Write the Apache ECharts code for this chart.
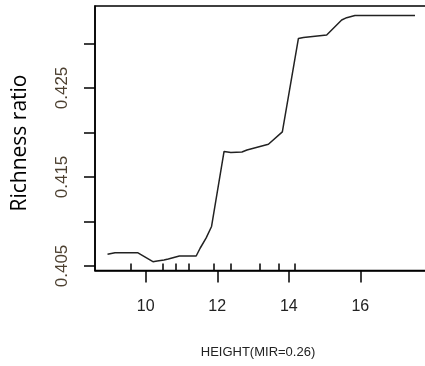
<!DOCTYPE html>
<html>
<head>
<meta charset="utf-8">
<script src="https://cdn.jsdelivr.net/npm/echarts@6/dist/echarts.min.js"></script>
<style>
  html, body { margin: 0; padding: 0; background: #fff; }
  #chart { width: 425px; height: 366px; }
</style>
</head>
<body>
<div id="chart"></div>
<script>
// Partial dependence of richness ratio on HEIGHT
const heightX = [8.93, 9.14, 9.77, 10.20, 10.32, 10.51, 10.63, 10.94, 11.41, 11.52, 11.69, 11.84,
                 12.19, 12.38, 12.69, 12.83, 13.43, 13.82, 14.27, 14.41, 15.06, 15.48, 15.62, 15.85, 17.53];
const richness = [0.40631, 0.40649, 0.40649, 0.40548, 0.40556, 0.40567, 0.40579, 0.40612, 0.40612, 0.40699, 0.40815, 0.40944,
                  0.41787, 0.41775, 0.41781, 0.41803, 0.41867, 0.42006, 0.43056, 0.43067, 0.43096, 0.43264, 0.43290, 0.43315, 0.43315];
// observed HEIGHT values (rug)
const rugX = [9.57, 10.48, 10.84, 11.19, 11.91, 12.37, 13.19, 13.73, 14.18];
const xTickValues = [10, 12, 14, 16];
const yTickValues = [0.405, 0.410, 0.415, 0.420, 0.425, 0.430];
const yLabelValues = [0.405, 0.415, 0.425];
const xTitle = 'HEIGHT(MIR=0.26)';
const yTitle = 'Richness ratio';

const chart = echarts.init(document.getElementById('chart'), null, { renderer: 'canvas' });

const xMin = 8.58, xMax = 18.09;

chart.setOption({
  animation: false,
  backgroundColor: '#fff',
  grid: {
    left: 95, top: 6, width: 340, height: 264.5,
    outerBoundsMode: 'none', containLabel: false,
    show: true, borderColor: '#000', borderWidth: 1.5, backgroundColor: 'transparent'
  },
  xAxis: [
    {
      type: 'value', min: xMin, max: xMax, position: 'bottom',
      splitLine: { show: false },
      axisLine: { show: true, lineStyle: { color: '#000', width: 1.5 } },
      axisTick: { show: true, length: 12, customValues: xTickValues, lineStyle: { color: '#000', width: 1.5 } },
      axisLabel: {
        customValues: xTickValues, margin: 28, fontSize: 16,
        fontFamily: 'Liberation Sans', color: '#222'
      }
    },
    {
      // rug ticks pointing into the plot
      type: 'value', min: xMin, max: xMax, position: 'bottom',
      splitLine: { show: false },
      axisLine: { show: false },
      axisTick: { show: true, inside: true, length: 7, customValues: rugX, lineStyle: { color: '#000', width: 1.5 } },
      axisLabel: { show: false }
    }
  ],
  yAxis: {
    type: 'value', min: 0.40449, max: 0.43421,
    splitLine: { show: false },
    axisLine: { show: true, lineStyle: { color: '#000', width: 1.5 } },
    axisTick: { show: true, length: 11, customValues: yTickValues, lineStyle: { color: '#000', width: 1.5 } },
    axisLabel: {
      customValues: yLabelValues, rotate: 90, margin: 24, fontSize: 17,
      fontFamily: 'Liberation Sans', color: '#4d4030',
      formatter: v => v.toFixed(3)
    }
  },
  graphic: [
    {
      type: 'text', x: 20, y: 143, rotation: Math.PI / 2,
      style: {
        text: yTitle, fontFamily: 'Open Sans', fontSize: 21, fill: '#000',
        textAlign: 'center', textVerticalAlign: 'middle'
      }
    },
    {
      type: 'text', x: 258, y: 352.5,
      style: {
        text: xTitle, fontFamily: 'Liberation Sans', fontSize: 13, fill: '#222',
        textAlign: 'center', textVerticalAlign: 'middle'
      }
    }
  ],
  series: [{
    type: 'line',
    xAxisIndex: 0,
    data: heightX.map((x, i) => [x, richness[i]]),
    showSymbol: false,
    lineStyle: { color: '#222', width: 1.5 }
  }]
});
</script>
</body>
</html>
